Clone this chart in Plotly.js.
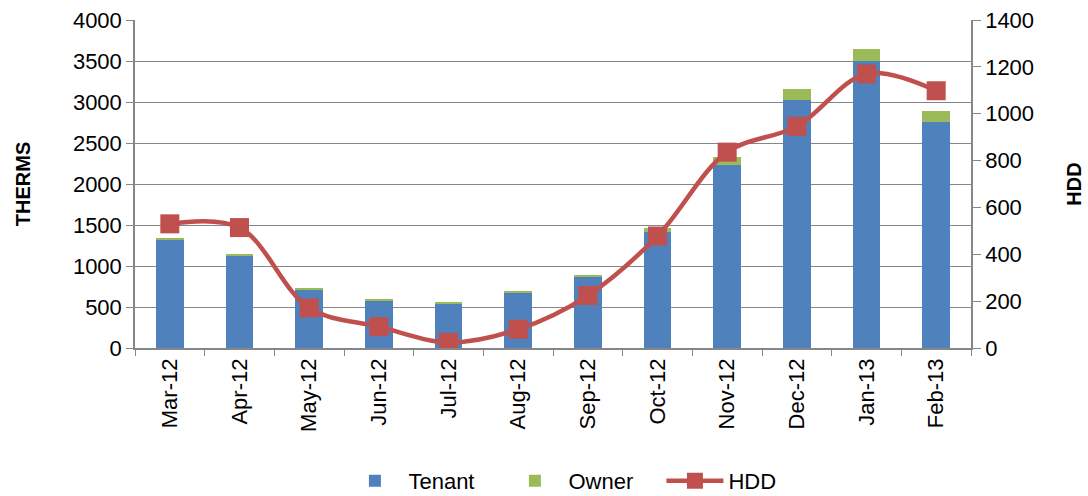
<!DOCTYPE html>
<html>
<head>
<meta charset="utf-8">
<script src="https://cdn.plot.ly/plotly-3.0.1.min.js"></script>
<style>
  html, body { margin: 0; padding: 0; background: #ffffff; }
  #chart { width: 1088px; height: 496px; }
</style>
</head>
<body>
<div id="chart"></div>
<script>
// therms / HDD chart

const months = ['Mar-12', 'Apr-12', 'May-12', 'Jun-12', 'Jul-12', 'Aug-12',
                'Sep-12', 'Oct-12', 'Nov-12', 'Dec-12', 'Jan-13', 'Feb-13'];
const tenant = [1320, 1125, 718, 580, 545, 680, 875, 1415, 2235, 3025, 3500, 2760];
const owner = [25, 18, 12, 8, 12, 6, 8, 50, 90, 135, 145, 125];
const hdd = [530, 514, 171, 91, 24, 80, 224, 478, 836, 946, 1170, 1098];

const leftTicks = [0, 500, 1000, 1500, 2000, 2500, 3000, 3500, 4000];
const rightTicks = [0, 200, 400, 600, 800, 1000, 1200, 1400];

const fontFamily = '"Liberation Sans", Arial, sans-serif';
const gridGrey = '#868686';

const traces = [
    {
        x: months,
        y: tenant,
        type: 'bar',
        name: 'Tenant',
        marker: { color: '#4F81BD' }
    },
    {
        x: months,
        y: owner,
        type: 'bar',
        name: 'Owner',
        marker: { color: '#9BBB59' }
    },
    {
        x: months,
        y: hdd,
        yaxis: 'y2',
        type: 'scatter',
        mode: 'lines+markers',
        name: 'HDD',
        line: { color: '#C0504D', width: 4.5, shape: 'spline', smoothing: 1 },
        marker: { symbol: 'square', size: 19, color: '#C0504D' }
    }
];

const layout = {
    width: 1088,
    height: 496,
    margin: { t: 20, r: 117, b: 148, l: 135, autoexpand: false },
    paper_bgcolor: '#ffffff',
    plot_bgcolor: '#ffffff',
    font: { family: fontFamily, size: 22, color: '#000000' },
    barmode: 'stack',
    bargap: 0.6,
    showlegend: true,
    legend: {
        orientation: 'h',
        x: 0.534,
        xanchor: 'center',
        y: -0.405,
        yanchor: 'middle',
        itemwidth: 57,
        entrywidth: 88,
        font: { size: 22 },
        traceorder: 'normal'
    },
    xaxis: {
        type: 'category',
        range: [-0.5, 11.5],
        tickangle: -90,
        automargin: false,
        showline: true,
        linecolor: gridGrey,
        linewidth: 1.5,
        ticks: 'outside',
        tickson: 'boundaries',
        ticklen: 6,
        tickcolor: gridGrey,
        showgrid: false,
        tickfont: { size: 22 }
    },
    yaxis: {
        title: { text: 'THERMS', font: { size: 20, weight: 'bold' }, standoff: 37 },
        automargin: false,
        range: [0, 4000],
        tickvals: leftTicks,
        showline: true,
        linecolor: gridGrey,
        linewidth: 1.5,
        ticks: 'outside',
        ticklen: 7,
        tickcolor: gridGrey,
        showgrid: true,
        gridcolor: gridGrey,
        gridwidth: 1.4,
        zeroline: false,
        tickfont: { size: 22 }
    },
    yaxis2: {
        title: { text: 'HDD', font: { size: 20, weight: 'bold' }, standoff: 34 },
        automargin: false,
        overlaying: 'y',
        side: 'right',
        range: [0, 1400],
        tickvals: rightTicks,
        showline: true,
        linecolor: gridGrey,
        linewidth: 1.5,
        ticks: 'outside',
        ticklen: 8,
        tickcolor: gridGrey,
        showgrid: false,
        zeroline: false,
        tickfont: { size: 22 }
    }
};

Plotly.newPlot('chart', traces, layout, { displayModeBar: false, responsive: false });
</script>
</body>
</html>
